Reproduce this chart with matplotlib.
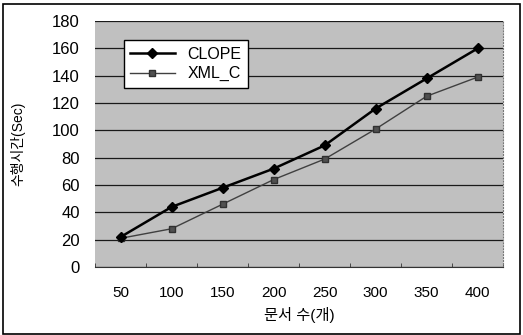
import numpy as np
import matplotlib.pyplot as plt
from matplotlib.patches import Rectangle

plt.rcParams['font.family'] = ['Liberation Sans', 'Noto Sans CJK KR']

# 문서 수 / 수행시간
docs = ['50', '100', '150', '200', '250', '300', '350', '400']
clope = [22, 44, 58, 72, 89, 116, 138, 160]
xml_c = [21, 28, 46, 64, 79, 101, 125, 139]

fig = plt.figure(figsize=(5.23, 3.35), dpi=100)
ax = fig.add_axes([0.182, 0.203, 0.780, 0.734])
ax.set_facecolor('#c0c0c0')

x = np.arange(len(docs))
ax.plot(x, clope, color='black', linewidth=1.8, marker='D', markersize=5,
        label='CLOPE', zorder=4)
ax.plot(x, xml_c, color='#404040', linewidth=1.0, marker='s', markersize=5,
        markerfacecolor='#505050', markeredgecolor='#303030',
        label='XML_C', zorder=3)

ax.set_xlim(-0.5, len(docs) - 0.5)
ax.set_ylim(0, 180)
ax.set_yticks(range(0, 181, 20))
ax.set_xticks(x)
ax.set_xticklabels(docs, fontsize=11)
ax.tick_params(axis='y', labelsize=12, length=0, pad=11)
ax.tick_params(axis='x', length=0, pad=14)
ax.set_xticks(np.arange(-0.5, len(docs), 1), minor=True)
ax.tick_params(axis='x', which='minor', length=3, direction='in', color='#333333')

ax.yaxis.grid(True, color='#1a1a1a', linewidth=0.9)
ax.set_axisbelow(True)
for s in ['top', 'left']:
    ax.spines[s].set_visible(False)
ax.spines['right'].set_color('#777777')
ax.spines['right'].set_linestyle(':')
ax.spines['bottom'].set_color('#333333')

ax.set_xlabel('문서 수(개)', fontsize=11, labelpad=5)
ax.set_ylabel('수행시간(Sec)', fontsize=10)
ax.yaxis.set_label_coords(-0.17, 0.5)

leg = ax.legend(loc='upper left', bbox_to_anchor=(0.05, 0.955), fontsize=11.5,
                frameon=True, fancybox=False, borderpad=0.4, handlelength=2.8,
                labelspacing=0.3)
leg.get_frame().set_edgecolor('black')
leg.get_frame().set_facecolor('white')
leg.get_frame().set_alpha(1)

fig.patches.append(Rectangle((0.006, 0.004), 0.988, 0.985, transform=fig.transFigure,
                             fill=False, edgecolor='black', linewidth=1.2))

fig.savefig('out.png', dpi=100)
